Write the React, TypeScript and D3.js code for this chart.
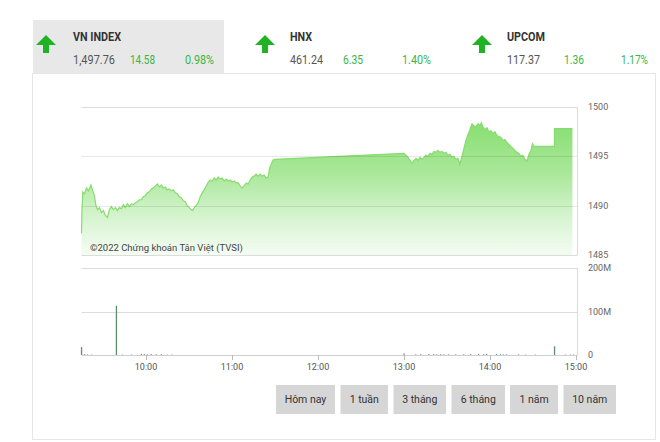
import React from "react";
import * as d3 from "d3";

// ---- Header data ----
const indexNames = ["VN INDEX", "HNX", "UPCOM"];
const indexValues = ["1,497.76", "461.24", "117.37"];
const indexChanges = ["14.58", "6.35", "1.36"];
const indexPercents = ["0.98%", "1.40%", "1.17%"];

// ---- Price series (time, VN-Index) ----
const priceTimes = [
  "9:15:00","9:15:20","9:15:55","9:17:05","9:18:30","9:19:50","9:21:35","9:22:40","9:24:00","9:25:05",
  "9:26:10","9:27:30","9:28:55","9:30:20","9:31:40","9:33:05","9:34:30","9:35:50","9:37:15","9:38:40",
  "9:40:05","9:41:25","9:42:50","9:44:15","9:45:35","9:47:00","9:48:25","9:49:50","9:51:10","9:52:35",
  "9:54:00","9:55:20","9:56:45","9:58:10","9:59:30","10:00:55","10:02:20","10:03:45","10:05:05","10:06:30",
  "10:07:55","10:09:15","10:10:40","10:12:05","10:13:30","10:14:50","10:16:15","10:17:40","10:19:00","10:20:25",
  "10:21:50","10:23:15","10:24:35","10:26:00","10:27:25","10:28:45","10:30:10","10:31:35","10:32:35","10:33:40",
  "10:35:00","10:36:25","10:37:50","10:39:15","10:40:35","10:42:00","10:43:25","10:44:50","10:46:10","10:47:35",
  "10:49:00","10:50:20","10:51:45","10:53:10","10:54:35","10:55:55","10:57:20","10:58:45","11:00:05","11:01:30",
  "11:02:55","11:04:20","11:05:40","11:07:05","11:08:30","11:09:50","11:11:15","11:12:40","11:14:05","11:15:25",
  "11:16:50","11:18:15","11:19:35","11:21:00","11:22:25","11:23:50","11:25:10","11:26:15","11:27:20","11:28:40",
  "11:29:50",
  "13:00:00","13:01:25","13:02:50","13:04:10","13:05:35","13:07:00","13:08:25","13:09:45","13:11:10","13:12:35",
  "13:13:55","13:15:20","13:16:45","13:18:10","13:19:30","13:20:55","13:22:20","13:23:40","13:25:05","13:26:30",
  "13:27:55","13:29:15","13:30:40","13:32:05","13:33:25","13:34:50","13:36:15","13:37:40","13:39:00","13:40:25",
  "13:41:50","13:43:10","13:44:35","13:46:00","13:47:25","13:48:45","13:50:10","13:51:35","13:52:55","13:54:00",
  "13:55:05","13:56:30","13:57:55","13:59:15","14:00:40","14:02:05","14:03:30","14:04:50","14:06:15","14:07:40",
  "14:09:00","14:10:25","14:11:50","14:13:15","14:14:35","14:16:00","14:17:25","14:18:45","14:20:10","14:21:35",
  "14:22:55","14:24:20","14:25:45","14:27:10","14:28:30","14:29:40","14:30:35","14:44:59","14:45:00","14:57:30"
];
const priceValues = [
  1487.2,1489.5,1491.4,1491.2,1491.8,1491.5,1492.1,1491.6,1491.0,1490.0,
  1489.6,1489.8,1489.3,1489.5,1489.0,1488.8,1489.6,1489.9,1489.6,1489.8,
  1489.5,1489.8,1489.7,1490.1,1489.8,1490.2,1489.9,1490.2,1490.1,1490.3,
  1490.4,1490.6,1490.6,1490.9,1491.0,1491.3,1491.4,1491.7,1491.8,1492.0,
  1492.2,1491.9,1492.1,1491.8,1491.9,1491.6,1491.7,1491.5,1491.6,1491.3,
  1491.2,1490.9,1490.8,1490.5,1490.4,1490.0,1489.8,1489.6,1489.5,1489.8,
  1490.0,1490.3,1490.9,1491.3,1491.6,1492.0,1492.4,1492.6,1492.5,1492.8,
  1492.6,1492.9,1492.7,1492.8,1492.5,1492.7,1492.5,1492.6,1492.4,1492.5,
  1492.3,1492.3,1492.0,1491.8,1492.0,1492.3,1492.2,1492.6,1492.9,1493.0,
  1493.2,1493.0,1493.2,1493.0,1493.1,1492.8,1492.9,1493.8,1494.2,1494.6,
  1494.7,
  1495.3,1495.1,1494.9,1494.6,1494.3,1494.6,1494.8,1494.6,1494.9,1494.7,
  1494.9,1495.1,1495.0,1495.3,1495.2,1495.5,1495.4,1495.6,1495.4,1495.5,
  1495.3,1495.4,1495.1,1495.2,1494.9,1495.0,1494.7,1494.8,1494.2,1495.0,
  1495.8,1496.6,1497.2,1497.7,1498.3,1498.1,1498.0,1498.3,1498.1,1498.4,
  1498.0,1497.7,1497.9,1497.5,1497.6,1497.3,1497.5,1497.1,1497.0,1496.9,
  1496.6,1496.7,1496.4,1496.2,1496.0,1495.8,1495.6,1495.4,1495.3,1495.0,
  1495.1,1494.7,1494.5,1495.2,1495.6,1496.3,1496.0,1496.0,1497.8,1497.8
];

// ---- Volume series (time, shares in millions) ----
const volumeTimes = [
  "9:15:00","9:17:05","9:19:10","9:22:00","9:39:20","9:43:30","9:49:50","9:56:45","9:58:50","10:00:55",
  "10:03:45","10:07:10","10:10:40","10:14:50","10:18:20","13:00:00","13:08:10","13:11:40","13:17:15","13:20:40",
  "13:22:45","13:25:35","13:27:40","13:31:10","13:36:00","13:41:35","13:46:25","13:52:00","13:55:30","13:57:35",
  "14:04:30","14:07:20","14:09:25","14:11:30","14:19:50","14:24:45","14:31:40","14:45:00","14:52:35","14:56:05",
  "14:58:10"
];
const volumeValues = [
  18,2,1.5,1,113,1,1,2.5,2,1.5,
  2,1.5,2,1,1,4,1.5,2,2,2,
  1.5,2,1.5,1.5,1.5,1.5,2,2.5,2,3,
  2.5,2,1.5,1.5,1.5,1,1,20,1,1,
  1
];

const priceTicks = [1500, 1495, 1490, 1485];
const volumeTicks = [200, 100, 0];
const volumeTickLabels = ["200M", "100M", "0"];
const timeTicks = ["10:00", "11:00", "12:00", "13:00", "14:00", "15:00"];
const rangeButtons = ["Hôm nay", "1 tuần", "3 tháng", "6 tháng", "1 năm", "10 năm"];

const parseT = (s: string) => {
  const p = s.split(":").map(Number);
  return new Date(2022, 0, 1, p[0], p[1], p[2] || 0);
};

const FONT = "Roboto, 'Liberation Sans', sans-serif";

export default function App() {
  const W = 660, H = 442;
  const x = d3.scaleTime().domain([parseT("9:15"), parseT("15:00")]).range([81.5, 576]);
  const y = d3.scaleLinear().domain([1485, 1500]).range([255, 107]);
  const yv = d3.scaleLinear().domain([0, 200]).range([355, 268]);

  const pts = priceTimes.map((t, i) => ({ t: parseT(t), v: priceValues[i] }));
  const line = d3.line<any>().x(d => x(d.t)).y(d => y(d.v));
  const area = d3.area<any>().x(d => x(d.t)).y0(y(1485)).y1(d => y(d.v));

  const vols = volumeTimes.map((t, i) => ({ t: parseT(t), v: volumeValues[i] }));

  const arrowCx = [46, 265, 482];
  const textX = [73, 290, 507];
  const chgX = [130, 343, 564];
  const pctX = [185, 402, 621];
  const nameW = [48, 22, 38];
  const valW = [42, 33, 33];
  const chgW = [25, 20, 20];
  const pctW = [29, 29, 27];

  const btnX = [276, 340.5, 393.5, 451.5, 510, 563.5];
  const btnW = [59, 47.5, 52.5, 53.5, 48, 52.5];

  const arrow = (cx: number) =>
    `M${cx},35 L${cx + 10},45 L${cx + 3},45 L${cx + 3},53 L${cx - 3},53 L${cx - 3},45 L${cx - 10},45 Z`;

  return (
    <svg width={W} height={H} style={{ position: "absolute", left: 0, top: 0, background: "#fff" }} fontFamily={FONT}>
      <defs>
        <linearGradient id="pg" gradientUnits="userSpaceOnUse" x1={0} y1={110} x2={0} y2={255}>
          <stop offset="0" stopColor="#7fdc66" stopOpacity={1} />
          <stop offset="0.45" stopColor="#8fe07a" stopOpacity={0.75} />
          <stop offset="1" stopColor="#a6e89a" stopOpacity={0.12} />
        </linearGradient>
      </defs>

      {/* card */}
      <rect x={32.5} y={73.5} width={623} height={366} fill="#fff" stroke="#e6e6e6" />
      {/* active tab */}
      <rect x={33} y={20} width={191} height={54} fill="#e8e8e8" />

      {/* header */}
      {indexNames.map((n, i) => (
        <g key={n}>
          <path d={arrow(arrowCx[i])} fill="#1fb324" />
          <text x={textX[i]} y={41} fontSize={12.5} fontWeight={700} fill="#333" textLength={nameW[i]} lengthAdjust="spacingAndGlyphs">{n}</text>
          <text x={textX[i]} y={64} fontSize={12.5} fill="#555" textLength={valW[i]} lengthAdjust="spacingAndGlyphs">{indexValues[i]}</text>
          <text x={chgX[i]} y={64} fontSize={12.5} fill="#3bb54a" textLength={chgW[i]} lengthAdjust="spacingAndGlyphs">{indexChanges[i]}</text>
          <text x={pctX[i]} y={64} fontSize={12.5} fill="#3bb54a" textLength={pctW[i]} lengthAdjust="spacingAndGlyphs">{indexPercents[i]}</text>
        </g>
      ))}

      {/* price panel */}
      <path d={area(pts) || ""} fill="url(#pg)" />
      <path d={line(pts) || ""} fill="none" stroke="#86dc6e" strokeWidth={1.2} />
      {priceTicks.map(t => (
        <g key={t}>
          <line x1={81.5} x2={577} y1={Math.round(y(t)) + 0.5} y2={Math.round(y(t)) + 0.5}
            stroke={t === 1500 || t === 1485 ? "#dcdcdc" : "rgba(0,0,0,0.09)"} />
          <text x={588} y={y(t) + 3} fontSize={9} fill="#666">{t}</text>
        </g>
      ))}
      <line x1={577.5} x2={577.5} y1={107} y2={255.5} stroke="#dcdcdc" />
      <text x={90} y={251} fontSize={9.5} fill="#444">©2022 Chứng khoán Tân Việt (TVSI)</text>

      {/* volume panel */}
      {volumeTicks.map((t, i) => (
        <g key={t}>
          <line x1={81.5} x2={577} y1={Math.round(yv(t)) + 0.5} y2={Math.round(yv(t)) + 0.5}
            stroke={t === 0 ? "#cfcfcf" : "#dcdcdc"} />
          <text x={588} y={yv(t) + 3} fontSize={9} fill="#666">{volumeTickLabels[i]}</text>
        </g>
      ))}
      <line x1={577.5} x2={577.5} y1={268} y2={355.5} stroke="#dcdcdc" />
      {vols.map((d, i) => (
        <rect key={i} x={x(d.t) - 0.6} y={yv(d.v)} width={1.3} height={yv(0) - yv(d.v)}
          fill={d.v > 5 ? "#5e8d6c" : "#7a9a86"} />
      ))}
      {timeTicks.map(t => (
        <g key={t}>
          <line x1={Math.round(x(parseT(t))) + 0.5} x2={Math.round(x(parseT(t))) + 0.5} y1={355} y2={360} stroke="#bbb" />
          <text x={x(parseT(t))} y={370} fontSize={9} fill="#555" textAnchor="middle">{t}</text>
        </g>
      ))}

      {/* range buttons */}
      {rangeButtons.map((b, i) => (
        <g key={b}>
          <rect x={btnX[i]} y={385} width={btnW[i]} height={29} fill="#d6d6d6" />
          <text x={btnX[i] + btnW[i] / 2} y={403} fontSize={10.5} fill="#333" textAnchor="middle">{b}</text>
        </g>
      ))}
    </svg>
  );
}
